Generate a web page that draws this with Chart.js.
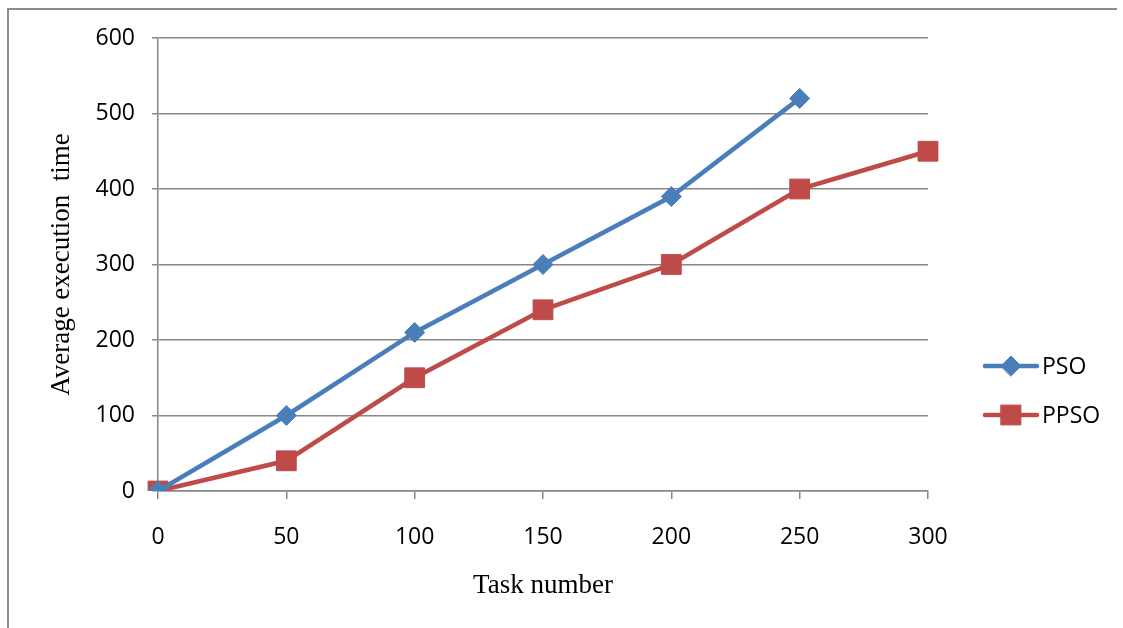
<!DOCTYPE html>
<html>
<head>
<meta charset="utf-8">
<script src="https://cdn.jsdelivr.net/npm/chart.js@4"></script>
<style>
  html, body { margin: 0; padding: 0; background: #fff; }
  #wrap { width: 1123px; height: 628px; }
</style>
</head>
<body>
<div id="wrap"><canvas id="lineChart" width="1123" height="628"></canvas></div>
<script>
/* Data */
const taskNumbers = ["0", "50", "100", "150", "200", "250", "300"];
const psoTimes = [0, 100, 210, 300, 390, 520];
const ppsoTimes = [0, 40, 150, 240, 300, 400, 450];
const yTicks = [0, 100, 200, 300, 400, 500, 600];

const gridGrey = '#878787';
const tickFont = { family: 'Open Sans', size: 23 };
const titleFont = { family: 'Liberation Serif', size: 27 };

/* frame round the picture + legend at the right */
const framePlugin = {
    id: 'frame',
    beforeDraw(chart) {
        const ctx = chart.ctx;
        ctx.save();
        ctx.fillStyle = '#fff';
        ctx.fillRect(0, 0, chart.width, chart.height);
        ctx.strokeStyle = '#8c8c8c';
        ctx.lineWidth = 2;
        ctx.beginPath();
        ctx.moveTo(8, chart.height);
        ctx.lineTo(8, 9);
        ctx.lineTo(1117, 9);
        ctx.stroke();
        ctx.restore();
    },
    afterDraw(chart) {
        const ctx = chart.ctx;
        const rows = [366, 415];
        ctx.save();
        chart.data.datasets.forEach((ds, i) => {
            const y = rows[i];
            ctx.strokeStyle = ds.borderColor;
            ctx.lineWidth = 4.5;
            ctx.lineCap = 'round';
            ctx.beginPath();
            ctx.moveTo(985, y);
            ctx.lineTo(1037, y);
            ctx.stroke();
            ctx.fillStyle = ds.borderColor;
            ctx.lineWidth = 1;
            Chart.helpers.drawPoint(ctx, {
                pointStyle: ds.pointStyle,
                radius: ds.pointRadius,
                borderWidth: 1
            }, 1011, y);
            ctx.fillStyle = '#000';
            ctx.font = '23px "Open Sans"';
            ctx.textBaseline = 'middle';
            ctx.fillText(ds.label, 1042, y + 1);
        });
        ctx.restore();
    }
};

const my_chart = new Chart('lineChart', {
    type: 'line',
    data: {
        labels: taskNumbers,
        datasets: [
            {
                label: 'PSO',
                data: psoTimes,
                borderColor: '#4a7ebb',
                backgroundColor: '#4a7ebb',
                borderWidth: 4.5,
                pointStyle: 'rectRot',
                pointRadius: 10,
                pointBorderWidth: 1,
                pointBorderColor: '#4a7ebb',
                pointBackgroundColor: '#4a7ebb',
                tension: 0
            },
            {
                label: 'PPSO',
                data: ppsoTimes,
                borderColor: '#be4b48',
                backgroundColor: '#be4b48',
                borderWidth: 4.5,
                pointStyle: 'rect',
                pointRadius: 14,
                pointBorderWidth: 1,
                pointBorderColor: '#be4b48',
                pointBackgroundColor: '#be4b48',
                tension: 0
            }
        ]
    },
    plugins: [framePlugin],
    options: {
        responsive: false,
        animation: false,
        layout: {
            padding: { left: 0, right: 195, top: 38, bottom: 0 }
        },
        scales: {
            x: {
                offset: false,
                grid: {
                    drawOnChartArea: false,
                    drawTicks: true,
                    tickLength: 8,
                    color: gridGrey,
                    lineWidth: 1.5
                },
                border: { color: gridGrey, width: 1.5 },
                ticks: { color: '#000', font: tickFont, padding: 25, maxRotation: 0 },
                title: {
                    display: true,
                    text: 'Task number',
                    color: '#000',
                    font: titleFont,
                    padding: { top: 0, bottom: 26 }
                },
                afterFit(scale) { scale.height = 137; }
            },
            y: {
                min: 0,
                max: 600,
                afterBuildTicks(scale) {
                    scale.ticks = yTicks.map(v => ({ value: v }));
                },
                grid: {
                    color: gridGrey,
                    lineWidth: 1.5,
                    drawTicks: true,
                    tickLength: 6
                },
                border: { color: gridGrey, width: 1.5 },
                ticks: { color: '#000', font: tickFont, padding: 17 },
                title: {
                    display: true,
                    text: 'Average execution  time',
                    color: '#000',
                    font: titleFont,
                    padding: { top: 46, bottom: 0 }
                },
                afterFit(scale) { scale.width = 158; }
            }
        },
        plugins: {
            legend: { display: false },
            tooltip: { enabled: false }
        }
    }
});
</script>
</body>
</html>
